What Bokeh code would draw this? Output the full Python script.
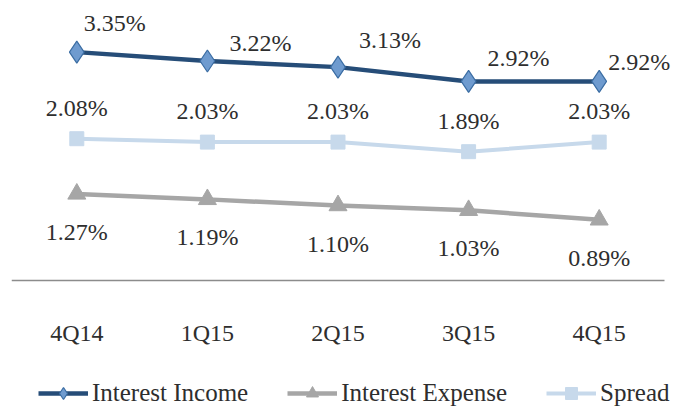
from bokeh.plotting import figure
from bokeh.models import (ColumnDataSource, Legend, LegendItem, Range1d, Text)
from bokeh.core.properties import value
from bokeh.embed import file_html
from bokeh.resources import INLINE

quarters = ["4Q14", "1Q15", "2Q15", "3Q15", "4Q15"]
interest_income = [3.35, 3.22, 3.13, 2.92, 2.92]
interest_expense = [1.27, 1.19, 1.10, 1.03, 0.89]
spread = [2.08, 2.03, 2.03, 1.89, 2.03]

# label placement (screen offsets, px)
income_dx = [38, 53, 52, 50, 40]
income_dy = [-29, -18, -27, -23, -19]

FONT = "Liberation Serif"
FS = "24px"
TXT = "#2e2e2e"

def lbl(vals):
    return ["%.2f%%" % v for v in vals]

xi = list(range(len(quarters)))
n = len(quarters)

src = ColumnDataSource(dict(
    x=xi, q=quarters, zero=[0] * n,
    inc=interest_income, exp=interest_expense, spr=spread,
    inc_l=lbl(interest_income), exp_l=lbl(interest_expense), spr_l=lbl(spread),
    inc_dx=income_dx, inc_dy=income_dy,
))

UNIT = 653 / 5.0          # px per category
PX_PER_PCT = 272 / 3.99    # vertical scale
FRAME_H = 400
y_top = 3.99
y_bot = y_top - FRAME_H / PX_PER_PCT

p = figure(x_range=Range1d(-0.5, n - 0.5 + 8 / UNIT), y_range=Range1d(y_bot, y_top),
           frame_width=661, frame_height=FRAME_H,
           min_border_left=11, min_border_right=2, min_border_top=8,
           min_border_bottom=0,
           output_backend="svg", toolbar_location=None)
p.outline_line_color = None
p.grid.visible = False
p.xaxis.visible = False
p.yaxis.visible = False
p.background_fill_color = "white"
p.border_fill_color = "white"

# category axis: baseline at 0 and quarter labels
p.segment(x0=-0.5, y0=0, x1=n - 0.5, y1=0, line_color="#8c8c8c", line_width=1.5)
p.add_glyph(src, Text(x="x", y="zero", text="q", y_offset=52,
                      text_font=value(FONT), text_font_size=FS, text_color=TXT,
                      text_align="center", text_baseline="middle"))

inc_col = "#264D78"
inc_fill = "#6F9BCF"
inc_edge = "#3B6DA3"
exp_col = "#A6A6A6"
spr_col = "#C7D9EB"

r_inc_l = p.line("x", "inc", source=src, line_color=inc_col, line_width=4.5)
r_inc_m = p.scatter("x", "inc", source=src, marker="diamond", size=22,
                    fill_color=inc_fill, line_color=inc_edge, line_width=1.2)
r_exp_l = p.line("x", "exp", source=src, line_color=exp_col, line_width=4.5)
r_exp_m = p.scatter("x", "exp", source=src, marker="triangle", size=18,
                    fill_color=exp_col, line_color=exp_col)
r_spr_l = p.line("x", "spr", source=src, line_color=spr_col, line_width=4)
r_spr_m = p.scatter("x", "spr", source=src, marker="square", size=14,
                    fill_color=spr_col, line_color=spr_col)

def txt(y, text, dx, dy):
    return Text(x="x", y=y, text=text, x_offset=dx, y_offset=dy,
                text_font=value(FONT), text_font_size=FS, text_color=TXT,
                text_align="center", text_baseline="middle")

p.add_glyph(src, txt("inc", "inc_l", "inc_dx", "inc_dy"))
p.add_glyph(src, txt("spr", "spr_l", 0, -31))
p.add_glyph(src, txt("exp", "exp_l", 0, 38))

legend = Legend(items=[
    LegendItem(label="Interest Income", renderers=[r_inc_l, r_inc_m]),
    LegendItem(label="Interest Expense", renderers=[r_exp_l, r_exp_m]),
    LegendItem(label="Spread", renderers=[r_spr_l, r_spr_m]),
], orientation="horizontal", location=(27, 0))
legend.border_line_color = None
legend.background_fill_alpha = 0
legend.label_text_font = FONT
legend.label_text_font_size = "25px"
legend.label_text_color = TXT
legend.glyph_width = 50
legend.glyph_height = 30
legend.label_standoff = 4
legend.spacing = 39
legend.padding = 0
legend.margin = 0
p.add_layout(legend, "center")

open("out.html", "w").write(file_html(p, INLINE))
